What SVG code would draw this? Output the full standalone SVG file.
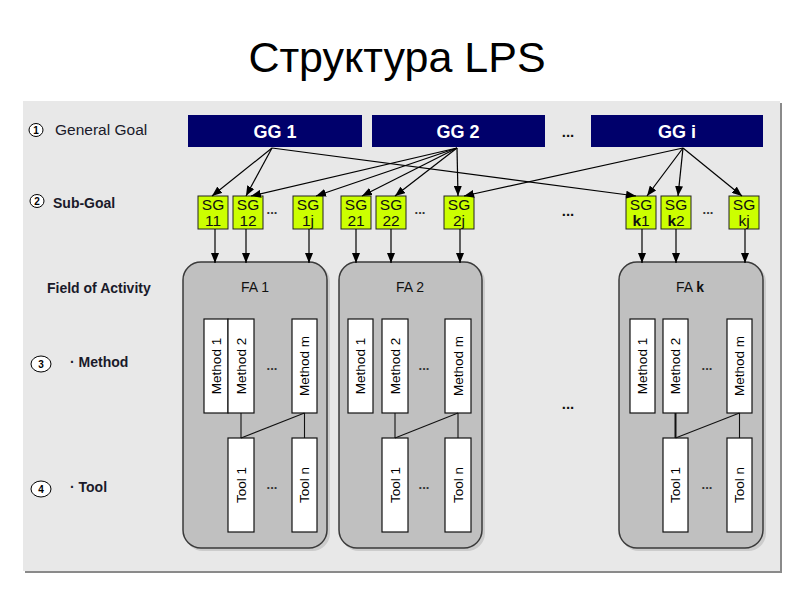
<svg xmlns="http://www.w3.org/2000/svg" width="794" height="595" viewBox="0 0 794 595">
<defs>
<marker id="ah" markerUnits="userSpaceOnUse" markerWidth="10" markerHeight="8" refX="10" refY="4" orient="auto">
<path d="M0,0 L10,4 L0,8 z" fill="#000"/>
</marker>
<style>
text{font-family:"Liberation Sans",Arial,sans-serif;}
.title{font-size:43px;fill:#000;text-anchor:middle;}
.lbl{font-size:14px;font-weight:bold;fill:#1a1a2a;}
.num{font-size:10px;font-weight:bold;fill:#000;text-anchor:middle;}
.circ{fill:#fff;stroke:#000;stroke-width:1;}
.gg rect{fill:#00006b;}
.gg text{font-size:18px;font-weight:bold;fill:#fff;text-anchor:middle;}
.sg rect{fill:#ccff00;stroke:#222;stroke-width:1;}
.sg text{font-size:15.5px;fill:#111;text-anchor:middle;}
.fa rect.bg{fill:#c0c0c0;stroke:#3a3a3a;stroke-width:1.5;}
.fa rect.sh{fill:#b0b0b0;opacity:0.5;}
.fa text.h{font-size:14px;fill:#111;text-anchor:middle;}
.box rect{fill:#fff;stroke:#111;stroke-width:1.2;}
.box text{font-size:13.5px;fill:#000;text-anchor:middle;}
.dots{font-size:13px;font-weight:bold;fill:#333;text-anchor:middle;}
.dotsb{font-size:15px;font-weight:bold;fill:#111;text-anchor:middle;}
.edge{stroke:#000;stroke-width:1.2;fill:none;marker-end:url(#ah);}
.link{stroke:#111;stroke-width:1.1;fill:none;}
</style>
</defs>
<rect x="0" y="0" width="794" height="595" fill="#fff"/>
<text class="title" x="397" y="72">Структура LPS</text>
<rect x="25" y="103" width="757" height="470" fill="#8a8a8a"/>
<rect x="23" y="101" width="757" height="470" fill="#e8e8e8"/>

<g id="legend">
<ellipse class="circ" cx="36" cy="130" rx="7" ry="6.5"/><text class="num" x="36" y="133.5">1</text>
<text x="55" y="135" style="font-size:15.5px;fill:#1a1a2a">General Goal</text>
<ellipse class="circ" cx="37" cy="201" rx="7" ry="6.5"/><text class="num" x="37" y="204.5">2</text>
<text class="lbl" x="53" y="208">Sub-Goal</text>
<text class="lbl" x="47" y="293">Field of Activity</text>
<ellipse class="circ" cx="41" cy="364" rx="10" ry="8"/><text class="num" x="41" y="367.5">3</text>
<text class="lbl" x="70" y="367">· Method</text>
<ellipse class="circ" cx="41" cy="489" rx="10" ry="8"/><text class="num" x="41" y="492.5">4</text>
<text class="lbl" x="70" y="492">· Tool</text>
</g>

<g id="gg1" class="gg"><rect x="188" y="115" width="174" height="32"/><text x="275" y="138">GG 1</text></g>
<g id="gg2" class="gg"><rect x="372" y="115" width="173" height="32"/><text x="458" y="138">GG 2</text></g>
<g id="ggi" class="gg"><rect x="591" y="115" width="172" height="32"/><text x="677" y="138">GG i</text></g>
<text class="dotsb" x="568" y="137">...</text>

<g id="sg11" class="sg"><rect x="198" y="196" width="30" height="33"/><text x="213" y="210">SG</text><text x="213" y="226">11</text></g>
<g id="sg12" class="sg"><rect x="233" y="196" width="30" height="33"/><text x="248" y="210">SG</text><text x="248" y="226">12</text></g>
<g id="sg1j" class="sg"><rect x="293" y="196" width="30" height="33"/><text x="308" y="210">SG</text><text x="308" y="226">1j</text></g>
<g id="sg21" class="sg"><rect x="341" y="196" width="30" height="33"/><text x="356" y="210">SG</text><text x="356" y="226">21</text></g>
<g id="sg22" class="sg"><rect x="376" y="196" width="30" height="33"/><text x="391" y="210">SG</text><text x="391" y="226">22</text></g>
<g id="sg2j" class="sg"><rect x="444" y="196" width="30" height="33"/><text x="459" y="210">SG</text><text x="459" y="226">2j</text></g>
<g id="sgk1" class="sg"><rect x="626" y="196" width="30" height="33"/><text x="641" y="210">SG</text><text x="641" y="226"><tspan font-weight="bold">k</tspan>1</text></g>
<g id="sgk2" class="sg"><rect x="661" y="196" width="30" height="33"/><text x="676" y="210">SG</text><text x="676" y="226"><tspan font-weight="bold">k</tspan>2</text></g>
<g id="sgkj" class="sg"><rect x="729" y="196" width="30" height="33"/><text x="744" y="210">SG</text><text x="744" y="226">kj</text></g>
<text class="dots" x="272" y="214">...</text>
<text class="dots" x="420" y="214">...</text>
<text class="dotsb" x="568" y="216">...</text>
<text class="dots" x="708" y="214">...</text>

<g id="fa1" class="fa">
<rect class="sh" x="185" y="264" width="145" height="287" rx="18"/>
<rect class="bg" x="183" y="262" width="144" height="286" rx="18"/>
<text class="h" x="255" y="292">FA 1</text>
<g class="box"><rect x="204" y="319" width="24" height="94"/><text transform="translate(216,366) rotate(-90)" dy="4.5">Method 1</text></g>
<g class="box"><rect x="228" y="319" width="26" height="94"/><text transform="translate(241,366) rotate(-90)" dy="4.5">Method 2</text></g>
<g class="box"><rect x="292" y="319" width="25" height="94"/><text transform="translate(304.5,366) rotate(-90)" dy="4.5">Method m</text></g>
<g class="box"><rect x="228" y="438" width="26" height="94"/><text transform="translate(241,485) rotate(-90)" dy="4.5">Tool 1</text></g>
<g class="box"><rect x="292" y="438" width="25" height="94"/><text transform="translate(304.5,485) rotate(-90)" dy="4.5">Tool n</text></g>
<text class="dots" x="272" y="370">...</text>
<text class="dots" x="272" y="489">...</text>
</g>

<g id="fa2" class="fa">
<rect class="sh" x="341" y="264" width="144" height="287" rx="18"/>
<rect class="bg" x="339" y="262" width="143" height="286" rx="18"/>
<text class="h" x="410" y="292">FA 2</text>
<g class="box"><rect x="348" y="319" width="25" height="94"/><text transform="translate(360.5,366) rotate(-90)" dy="4.5">Method 1</text></g>
<g class="box"><rect x="382" y="319" width="26" height="94"/><text transform="translate(395,366) rotate(-90)" dy="4.5">Method 2</text></g>
<g class="box"><rect x="445" y="319" width="26" height="94"/><text transform="translate(458,366) rotate(-90)" dy="4.5">Method m</text></g>
<g class="box"><rect x="382" y="438" width="26" height="94"/><text transform="translate(395,485) rotate(-90)" dy="4.5">Tool 1</text></g>
<g class="box"><rect x="445" y="438" width="26" height="94"/><text transform="translate(458,485) rotate(-90)" dy="4.5">Tool n</text></g>
<text class="dots" x="424" y="370">...</text>
<text class="dots" x="424" y="489">...</text>
</g>

<text class="dotsb" x="568" y="409">...</text>

<g id="fak" class="fa">
<rect class="sh" x="621" y="264" width="145" height="287" rx="18"/>
<rect class="bg" x="619" y="262" width="144" height="286" rx="18"/>
<text class="h" x="690" y="292">FA <tspan font-weight="bold">k</tspan></text>
<g class="box"><rect x="630" y="319" width="25" height="94"/><text transform="translate(642.5,366) rotate(-90)" dy="4.5">Method 1</text></g>
<g class="box"><rect x="663" y="319" width="25" height="94"/><text transform="translate(675.5,366) rotate(-90)" dy="4.5">Method 2</text></g>
<g class="box"><rect x="727" y="319" width="25" height="94"/><text transform="translate(739.5,366) rotate(-90)" dy="4.5">Method m</text></g>
<g class="box"><rect x="663" y="438" width="25" height="94"/><text transform="translate(675.5,485) rotate(-90)" dy="4.5">Tool 1</text></g>
<g class="box"><rect x="727" y="438" width="25" height="94"/><text transform="translate(739.5,485) rotate(-90)" dy="4.5">Tool n</text></g>
<text class="dots" x="707" y="370">...</text>
<text class="dots" x="707" y="489">...</text>
</g>

<g id="connectors">
<line class="edge" x1="272" y1="148" x2="212" y2="196"/>
<line class="edge" x1="272" y1="148" x2="246" y2="196"/>
<line class="edge" x1="272" y1="148" x2="636" y2="196"/>
<line class="edge" x1="457" y1="148" x2="251" y2="196"/>
<line class="edge" x1="457" y1="148" x2="316" y2="196"/>
<line class="edge" x1="457" y1="148" x2="362" y2="196"/>
<line class="edge" x1="457" y1="148" x2="395" y2="196"/>
<line class="edge" x1="457" y1="148" x2="458" y2="196"/>
<line class="edge" x1="683" y1="148" x2="464" y2="196"/>
<line class="edge" x1="683" y1="148" x2="647" y2="196"/>
<line class="edge" x1="683" y1="148" x2="678" y2="196"/>
<line class="edge" x1="683" y1="148" x2="742" y2="196"/>
<line class="edge" x1="215" y1="229" x2="215" y2="263"/>
<line class="edge" x1="246" y1="229" x2="246" y2="263"/>
<line class="edge" x1="309" y1="229" x2="309" y2="263"/>
<line class="edge" x1="356" y1="229" x2="356" y2="263"/>
<line class="edge" x1="391" y1="229" x2="391" y2="263"/>
<line class="edge" x1="460" y1="229" x2="460" y2="263"/>
<line class="edge" x1="642" y1="229" x2="642" y2="263"/>
<line class="edge" x1="676" y1="229" x2="676" y2="263"/>
<line class="edge" x1="745" y1="229" x2="745" y2="263"/>
<line class="link" x1="241" y1="413" x2="241" y2="438"/>
<line class="link" x1="304.5" y1="413" x2="304.5" y2="438"/>
<line class="link" x1="304.5" y1="413" x2="241" y2="438"/>
<line class="link" x1="395" y1="413" x2="395" y2="438"/>
<line class="link" x1="458" y1="413" x2="458" y2="438"/>
<line class="link" x1="458" y1="413" x2="395" y2="438"/>
<line class="link" x1="675.5" y1="413" x2="675.5" y2="438" style="stroke-width:2"/>
<line class="link" x1="739.5" y1="413" x2="739.5" y2="438"/>
<line class="link" x1="739.5" y1="413" x2="675.5" y2="438"/>
</g>
</svg>
